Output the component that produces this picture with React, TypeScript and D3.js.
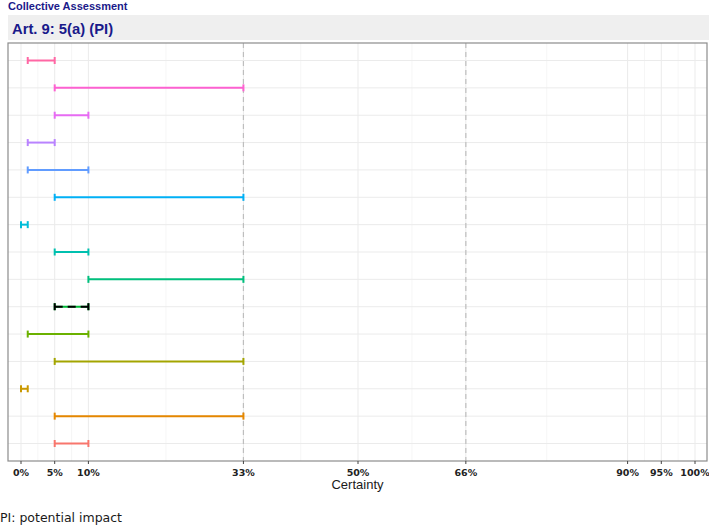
import React, { useEffect, useRef } from "react";
import * as d3 from "d3";

// rows listed top to bottom
const items = [
  "R15", "R14", "R13", "R12", "R11", "R10", "R9", "R8",
  "R7", "R6", "R5", "R4", "R3", "R2", "R1",
];
const lower = [1, 5, 5, 1, 1, 5, 0, 5, 10, 5, 1, 5, 0, 5, 5];
const upper = [5, 33, 10, 5, 10, 33, 1, 10, 33, 10, 10, 33, 1, 33, 10];
const collective = "R6"; // drawn with the black dashed bar on top

const tickValues = [0, 5, 10, 33, 50, 66, 90, 95, 100];
const minorValues = [2.5, 7.5, 21.5, 41.5, 58, 78, 92.5, 97.5];
const refLines = [33, 66];

const palette = [
  "#FF67A4", "#FD61D1", "#E76BF3", "#B983FF", "#619CFF", "#00B0F6",
  "#00BCD8", "#00C0AF", "#00BF7D", "#00BA38", "#6BB100", "#A3A500",
  "#C99800", "#E58700", "#F8766D",
];

const W = 709;
const H = 528;

const App = () => {
  const svgRef = useRef<SVGSVGElement | null>(null);

  useEffect(() => {
    const svg = d3.select(svgRef.current);
    svg.selectAll("*").remove();

    const panel = { left: 8, right: 707, top: 43, bottom: 461 };

    const x = d3.scaleLinear().domain([0, 100]).range([21, 695]);
    const y = d3
      .scalePoint<string>()
      .domain(items)
      .range([panel.top, panel.bottom])
      .padding(0.64);

    svg.append("rect").attr("width", W).attr("height", H).attr("fill", "white");

    // top labels
    svg
      .append("text")
      .attr("x", 8)
      .attr("y", 10)
      .attr("font-family", "Liberation Sans, Arial, sans-serif")
      .attr("font-weight", "bold")
      .attr("font-size", 11)
      .attr("fill", "#1a1a8a")
      .text("Collective Assessment");

    svg
      .append("rect")
      .attr("x", panel.left)
      .attr("y", 15)
      .attr("width", W - panel.left)
      .attr("height", 25)
      .attr("fill", "#EFEFEF");

    svg
      .append("text")
      .attr("x", 12)
      .attr("y", 34)
      .attr("font-family", "Liberation Sans, Arial, sans-serif")
      .attr("font-weight", "bold")
      .attr("font-size", 14.8)
      .attr("fill", "#1a1a8a")
      .text("Art. 9: 5(a) (PI)");

    // grid
    const g = svg.append("g");
    g.selectAll("line.minor")
      .data(minorValues)
      .join("line")
      .attr("x1", (d) => x(d))
      .attr("x2", (d) => x(d))
      .attr("y1", panel.top)
      .attr("y2", panel.bottom)
      .attr("stroke", "#F4F4F4")
      .attr("stroke-width", 0.8);

    g.selectAll("line.majorx")
      .data(tickValues)
      .join("line")
      .attr("x1", (d) => x(d))
      .attr("x2", (d) => x(d))
      .attr("y1", panel.top)
      .attr("y2", panel.bottom)
      .attr("stroke", "#EBEBEB")
      .attr("stroke-width", 1);

    svg
      .append("g")
      .selectAll("line")
      .data(items)
      .join("line")
      .attr("x1", panel.left)
      .attr("x2", panel.right)
      .attr("y1", (d) => y(d)!)
      .attr("y2", (d) => y(d)!)
      .attr("stroke", "#EBEBEB")
      .attr("stroke-width", 1);

    // reference dashed lines
    svg
      .append("g")
      .selectAll("line")
      .data(refLines)
      .join("line")
      .attr("x1", (d) => x(d))
      .attr("x2", (d) => x(d))
      .attr("y1", panel.top)
      .attr("y2", panel.bottom)
      .attr("stroke", "#BEBEBE")
      .attr("stroke-width", 1.2)
      .attr("stroke-dasharray", "5,4");

    // error bars
    const rows = items.map((id, i) => ({
      id,
      lo: lower[i],
      hi: upper[i],
      color: palette[i],
    }));

    const cap = 3.5;
    const drawBars = (sel, data, colorFn, dash) => {
      const bar = sel.selectAll("g").data(data).join("g");
      bar
        .append("line")
        .attr("x1", (d) => x(d.lo))
        .attr("x2", (d) => x(d.hi))
        .attr("y1", (d) => y(d.id)!)
        .attr("y2", (d) => y(d.id)!)
        .attr("stroke", colorFn)
        .attr("stroke-width", 2)
        .attr("stroke-dasharray", dash);
      ["lo", "hi"].forEach((k) => {
        bar
          .append("line")
          .attr("x1", (d) => x(d[k]))
          .attr("x2", (d) => x(d[k]))
          .attr("y1", (d) => y(d.id)! - cap)
          .attr("y2", (d) => y(d.id)! + cap)
          .attr("stroke", colorFn)
          .attr("stroke-width", 2);
      });
    };

    drawBars(svg.append("g"), rows, (d) => d.color, null);
    drawBars(
      svg.append("g"),
      rows.filter((d) => d.id === collective),
      () => "#000",
      "8,5"
    );

    // panel border
    svg
      .append("rect")
      .attr("x", panel.left)
      .attr("y", panel.top)
      .attr("width", panel.right - panel.left)
      .attr("height", panel.bottom - panel.top)
      .attr("fill", "none")
      .attr("stroke", "#8C8C8C")
      .attr("stroke-width", 1.2);

    // x axis
    const axis = svg.append("g").attr("transform", `translate(0,${panel.bottom})`);
    axis
      .selectAll("line")
      .data(tickValues)
      .join("line")
      .attr("x1", (d) => x(d))
      .attr("x2", (d) => x(d))
      .attr("y1", 0)
      .attr("y2", 3)
      .attr("stroke", "#444")
      .attr("stroke-width", 1);
    axis
      .selectAll("text")
      .data(tickValues)
      .join("text")
      .attr("x", (d) => x(d))
      .attr("y", 15)
      .attr("text-anchor", "middle")
      .attr("font-family", "DejaVu Sans, Verdana, sans-serif")
      .attr("font-weight", "bold")
      .attr("font-size", 9.5)
      .attr("fill", "#222")
      .text((d) => `${d}%`);

    svg
      .append("text")
      .attr("x", (panel.left + panel.right) / 2)
      .attr("y", 489)
      .attr("text-anchor", "middle")
      .attr("font-family", "Liberation Sans, Arial, sans-serif")
      .attr("font-size", 13)
      .attr("fill", "#1a1a1a")
      .text("Certainty");

    svg
      .append("text")
      .attr("x", 0)
      .attr("y", 522)
      .attr("font-family", "DejaVu Sans, Verdana, sans-serif")
      .attr("font-size", 12.5)
      .attr("fill", "#1a1a1a")
      .text("PI: potential impact");
  }, []);

  return (
    <svg
      ref={svgRef}
      width={W}
      height={H}
      style={{ position: "absolute", left: 0, top: 0, display: "block" }}
    ></svg>
  );
};

export default App;
